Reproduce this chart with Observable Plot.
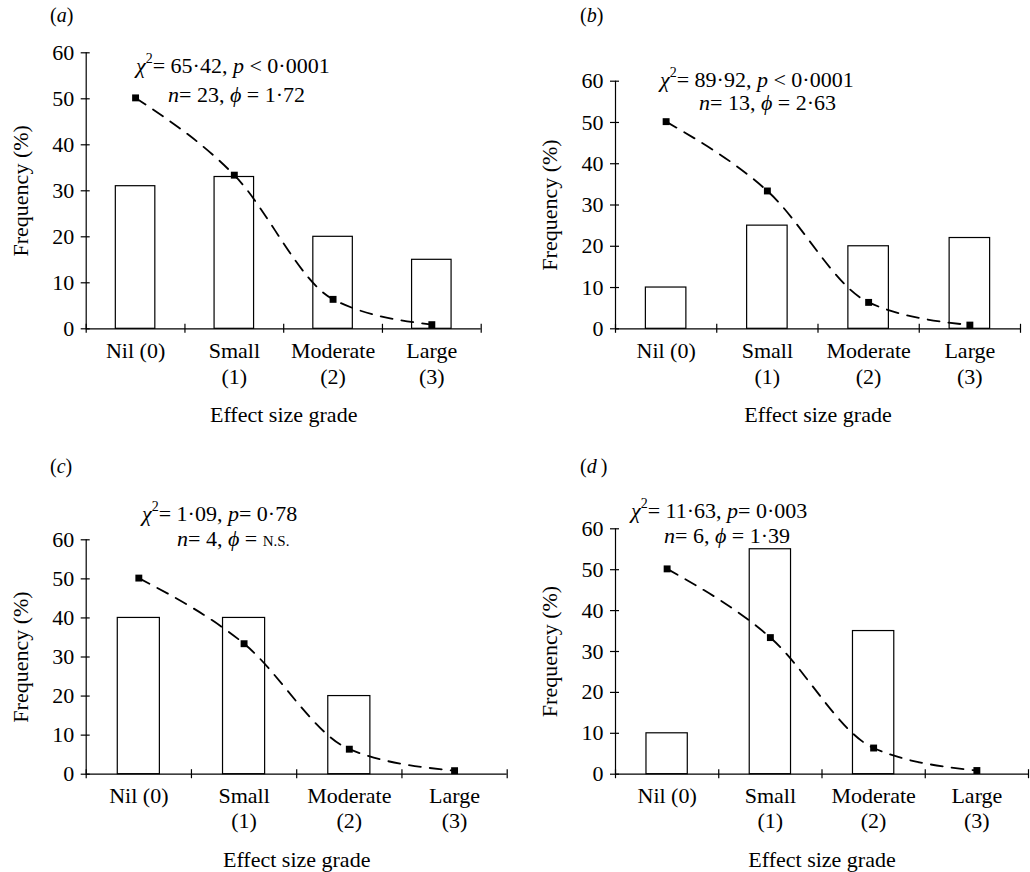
<!DOCTYPE html>
<html><head><meta charset="utf-8">
<script src="https://cdn.jsdelivr.net/npm/d3@7"></script>
<script src="https://cdn.jsdelivr.net/npm/@observablehq/plot@0.6"></script>
<style>
body{margin:0;background:#fff;}
#fig{position:relative;width:1030px;height:872px;}
.panel{position:absolute;width:515px;height:436px;}
</style></head><body><div id="fig"></div>
<script>
const grades = ["Nil (0)", "Small\n(1)", "Moderate\n(2)", "Large\n(3)"];
const gradeIndex = [0, 1, 2, 3];
const expected = [50.2, 33.4, 6.4, 0.9];
const observedA = [31, 33, 20, 15];
const observedB = [10, 25, 20, 22];
const observedC = [40, 40, 20, 0];
const observedD = [10, 55, 35, 0];
const yTicks = [0, 10, 20, 30, 40, 50, 60];
const panelIds = ["a", "b", "c", "d"];
const chiSq = ["65·42", "89·92", "1·09", "11·63"];
const pText = [" < 0·0001", " < 0·0001", "= 0·78", "= 0·003"];
const nText = ["23", "13", "4", "6"];
const phiText = ["1·72", "2·63", "N.S.", "1·39"];
const yLabel = "Frequency (%)";
const xLabel = "Effect size grade";

const FONT = "'Liberation Serif', 'Times New Roman', serif";
const layout = [
  {left: 0,   top: 0,   mt: 52.3,  mb: 107.7, ml: 85.7, mr: 34.3, tp: 11.5, lab: [50, 22], l1: [136, 73.3],   l2: [168, 101.7]},
  {left: 515, top: 0,   mt: 80.7,  mb: 107.7, ml: 100,  mr: 10,   tp: 11.5, lab: [65, 22], l1: [145, 86.7],   l2: [184, 110]},
  {left: 0,   top: 436, mt: 103.3, mb: 98.3,  ml: 85.7, mr: 8.3,  tp: 10.5, lab: [50, 37], l1: [142, 85],     l2: [177, 110]},
  {left: 515, top: 436, mt: 92.3,  mb: 98.3,  ml: 100,  mr: 2,    tp: 10.5, lab: [65, 37], l1: [116, 81.7],   l2: [149, 106.7]}
];

function makePanel(i, obs) {
  const L = layout[i];
  const bars = gradeIndex.map((g, k) => ({g, v: obs[k]})).filter(d => d.v > 0);
  const exp = gradeIndex.map((g, k) => ({g, v: expected[k]}));
  const svg = Plot.plot({
    width: 515, height: 436,
    marginTop: L.mt, marginBottom: L.mb, marginLeft: L.ml, marginRight: L.mr,
    style: {fontFamily: FONT, fontSize: "22px", background: "transparent", color: "#000", overflow: "visible"},
    x: {domain: [-0.5, 3.5]},
    y: {domain: [0, 60]},
    marks: [
      Plot.rectY(bars, {x1: d => d.g - 0.2, x2: d => d.g + 0.2, y: "v", fill: "white", stroke: "black", strokeWidth: 1.2}),
      Plot.ruleY([0], {stroke: "black", strokeWidth: 1.2}),
      Plot.ruleX([-0.5], {y1: 0, y2: 60, stroke: "black", strokeWidth: 1.2}),
      Plot.axisY({ticks: yTicks, tickSize: 9, dx: 4, tickFormat: () => "", label: null, strokeWidth: 1.2}),
      Plot.axisY({ticks: yTicks, tickSize: 0, tickPadding: 12, label: yLabel, labelAnchor: "center", labelArrow: "none", labelOffset: 74}),
      Plot.axisX({ticks: [-0.5, 0.5, 1.5, 2.5, 3.5], tickSize: 9, dy: -4.5, tickFormat: () => "", label: null, strokeWidth: 1.2}),
      Plot.axisX({ticks: gradeIndex, tickSize: 0, tickPadding: L.tp, tickFormat: g => grades[g], lineHeight: 1.15, label: xLabel, labelAnchor: "center", labelArrow: "none", labelOffset: 93}),
      Plot.line(exp, {x: "g", y: "v", curve: "monotone-x", stroke: "black", strokeWidth: 1.8, strokeDasharray: "12,9"}),
      Plot.dot(exp, {x: "g", y: "v", symbol: "square", r: 3.9, fill: "black"})
    ]
  });

  const s = d3.select(svg);
  const g = s.append("g").attr("font-family", FONT).attr("font-size", 22).attr("fill", "black")
    .attr("text-anchor", "start").style("white-space", "pre");
  // panel label
  const pl = g.append("text").attr("x", L.lab[0]).attr("y", L.lab[1]).attr("font-size", 20);
  pl.append("tspan").text("(");
  pl.append("tspan").attr("font-style", "italic").text(panelIds[i] + (panelIds[i] === "d" ? "\u2009" : ""));
  pl.append("tspan").text(")");
  // stats line 1
  const t1 = g.append("text").attr("x", L.l1[0]).attr("y", L.l1[1]);
  t1.append("tspan").attr("font-style", "italic").text("χ");
  t1.append("tspan").attr("font-size", 14).attr("dy", -10).text("2");
  t1.append("tspan").attr("dy", 10).text("= " + chiSq[i] + ", ");
  t1.append("tspan").attr("font-style", "italic").text("p");
  t1.append("tspan").text(pText[i]);
  // stats line 2
  const t2 = g.append("text").attr("x", L.l2[0]).attr("y", L.l2[1]);
  t2.append("tspan").attr("font-style", "italic").text("n");
  t2.append("tspan").text("= " + nText[i] + ", ");
  t2.append("tspan").attr("font-style", "italic").text("ϕ");
  t2.append("tspan").text(" = ");
  if (phiText[i] === "N.S.") t2.append("tspan").attr("font-size", 15).text(phiText[i]);
  else t2.append("tspan").text(phiText[i]);

  const div = document.createElement("div");
  div.className = "panel";
  div.style.left = L.left + "px";
  div.style.top = L.top + "px";
  div.appendChild(svg);
  document.getElementById("fig").appendChild(div);
}

[observedA, observedB, observedC, observedD].forEach((obs, i) => makePanel(i, obs));
</script></body></html>
